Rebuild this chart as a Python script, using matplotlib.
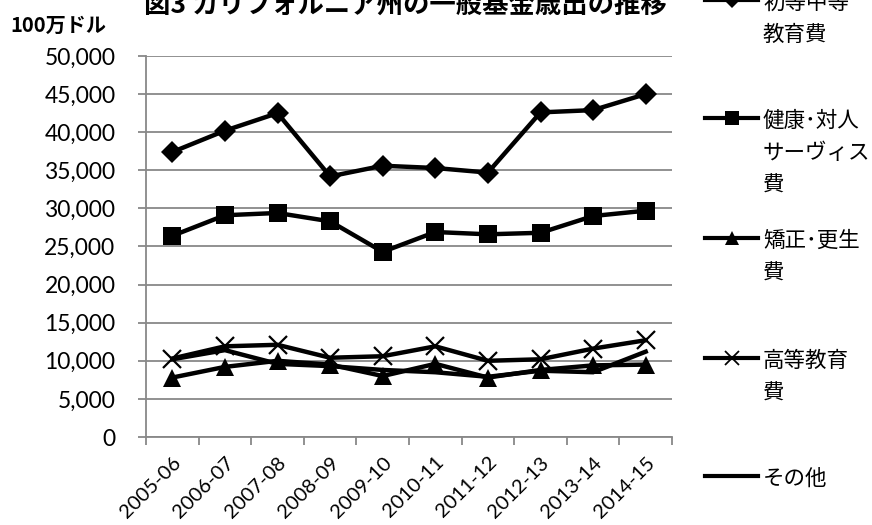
import matplotlib
matplotlib.use("Agg")
import matplotlib.pyplot as plt
from matplotlib.lines import Line2D
from matplotlib.ticker import FuncFormatter, FixedLocator

plt.rcParams['font.family'] = ['Noto Sans CJK JP', 'DejaVu Sans']

# Fiscal years
years = ["2005-06", "2006-07", "2007-08", "2008-09", "2009-10",
         "2010-11", "2011-12", "2012-13", "2013-14", "2014-15"]

# General fund expenditures (millions of dollars)
k12_education = [37400, 40200, 42500, 34200, 35600, 35300, 34700, 42600, 42900, 45000]
health_human_services = [26400, 29100, 29400, 28300, 24300, 26900, 26600, 26800, 29000, 29700]
corrections = [7800, 9200, 10000, 9500, 8000, 9600, 7800, 8800, 9400, 9500]
higher_education = [10300, 11900, 12100, 10400, 10600, 11900, 10000, 10200, 11600, 12700]
other = [10200, 11400, 9600, 9300, 8800, 8500, 7900, 8700, 8500, 11200]

series_labels = ["初等中等\n教育費", "健康･対人\nサーヴィス\n費", "矯正･更生\n費", "高等教育\n費", "その他"]
y_ticks = [0, 5000, 10000, 15000, 20000, 25000, 30000, 35000, 40000, 45000, 50000]

W, H = 872, 525
fig = plt.figure(figsize=(W / 100, H / 100), dpi=100)
ax = fig.add_axes([146 / W, 1 - 437 / H, (672 - 146) / W, (437 - 56) / H])

grid_color = "#888888"
tick_font = "Lato"

x = list(range(len(years)))
styles = [
    dict(marker="D", markersize=11, markeredgewidth=0),
    dict(marker="s", markersize=13, markeredgewidth=0),
    dict(marker="^", markersize=13, markeredgewidth=0),
    dict(marker="x", markersize=13, markeredgewidth=1.6),
    dict(marker=None),
]
data = [k12_education, health_human_services, corrections, higher_education, other]
for i, (vals, st) in enumerate(zip(data, styles)):
    ax.plot(x, vals, color="black", lw=3.2, solid_joinstyle="miter",
            markerfacecolor="black", markeredgecolor="black", zorder=3 + i, **st)

ax.set_xlim(-0.5, len(years) - 0.5)
ax.set_ylim(0, 50000)
ax.yaxis.set_major_locator(FixedLocator(y_ticks))
ax.yaxis.set_major_formatter(FuncFormatter(lambda v, p: f"{int(v):,}"))
ax.grid(axis="y", color=grid_color, lw=1.3, zorder=1)
ax.set_axisbelow(True)

# category boundary ticks and centered labels
ax.set_xticks([i - 0.5 for i in range(len(years) + 1)])
ax.set_xticklabels([])
ax.set_xticks(x, minor=True)
ax.set_xticklabels(years, minor=True, rotation=45, ha="right", va="top",
                   rotation_mode="anchor", fontsize=14.5, family=tick_font)
ax.tick_params(axis="x", which="major", length=6, width=1.3, color=grid_color, direction="out")
ax.tick_params(axis="x", which="minor", length=0, pad=12)
ax.tick_params(axis="y", length=6, width=1.3, color=grid_color, direction="out", pad=16)
for lab in ax.get_yticklabels():
    lab.set_fontsize(16.5)
    lab.set_family(tick_font)

for s in ["top", "right"]:
    ax.spines[s].set_visible(False)
for s in ["left", "bottom"]:
    ax.spines[s].set_color(grid_color)
    ax.spines[s].set_linewidth(1.3)

# title and unit label
fig.text(405 / W, 1 - 14 / H, "図3 カリフォルニア州の一般基金歳出の推移",
         ha="center", va="baseline", fontsize=19, fontweight="bold")
fig.text(10 / W, 1 - 25 / H, "100万ドル", ha="left", va="center",
         fontsize=14.5, fontweight="bold")

# legend entries at the right
legend_y = [0, 118, 238, 358, 476]
for lbl, st, yy in zip(series_labels, styles, legend_y):
    yf = 1 - yy / H
    fig.add_artist(Line2D([705 / W, 758 / W], [yf, yf], color="black", lw=3,
                          transform=fig.transFigure))
    if st.get("marker"):
        ms = st["markersize"] * 0.75
        fig.add_artist(Line2D([731.5 / W], [yf], marker=st["marker"], markersize=ms,
                              markeredgewidth=st["markeredgewidth"] * 0.8,
                              color="black", markerfacecolor="black", markeredgecolor="black",
                              transform=fig.transFigure))
    fig.text(763 / W, yf + 8 / H, lbl, ha="left", va="top", fontsize=15.5,
             linespacing=1.6)

fig.savefig("out.png", dpi=100)
